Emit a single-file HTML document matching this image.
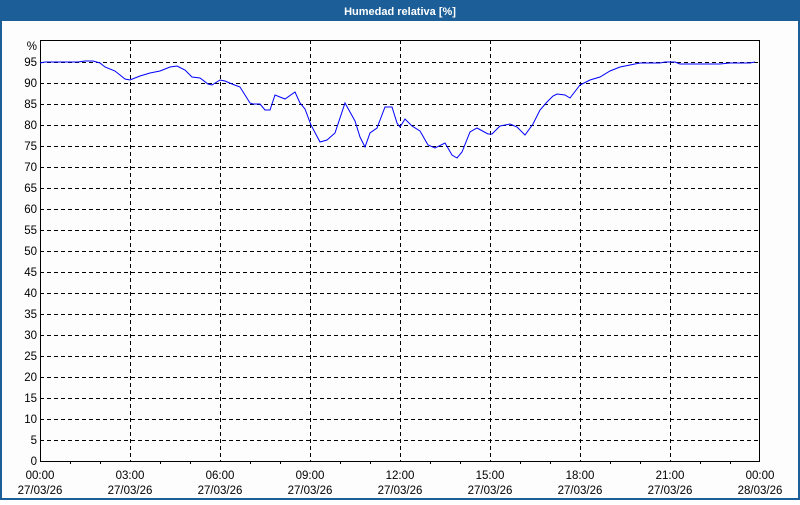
<!DOCTYPE html>
<html><head><style>
body{margin:0;width:800px;height:500px;overflow:hidden;background:#fff;font-family:"Liberation Sans",sans-serif}
</style></head><body>
<svg width="800" height="500" xmlns="http://www.w3.org/2000/svg" font-family="Liberation Sans, sans-serif" font-size="11.5">
<rect x="0" y="0" width="800" height="500" fill="#1c5f98"/>
<rect x="2" y="21" width="796" height="477" fill="#fcfdfc"/>
<text x="400" y="15" fill="#fff" font-weight="bold" font-size="11" text-anchor="middle">Humedad relativa [%]</text>
<g stroke="#000" stroke-dasharray="4,3" stroke-width="1">
<line x1="40" x2="760" y1="440.5" y2="440.5"/><line x1="40" x2="760" y1="419.5" y2="419.5"/><line x1="40" x2="760" y1="398.5" y2="398.5"/><line x1="40" x2="760" y1="377.5" y2="377.5"/><line x1="40" x2="760" y1="356.5" y2="356.5"/><line x1="40" x2="760" y1="335.5" y2="335.5"/><line x1="40" x2="760" y1="314.5" y2="314.5"/><line x1="40" x2="760" y1="293.5" y2="293.5"/><line x1="40" x2="760" y1="272.5" y2="272.5"/><line x1="40" x2="760" y1="251.5" y2="251.5"/><line x1="40" x2="760" y1="230.5" y2="230.5"/><line x1="40" x2="760" y1="209.5" y2="209.5"/><line x1="40" x2="760" y1="188.5" y2="188.5"/><line x1="40" x2="760" y1="167.5" y2="167.5"/><line x1="40" x2="760" y1="146.5" y2="146.5"/><line x1="40" x2="760" y1="125.5" y2="125.5"/><line x1="40" x2="760" y1="104.5" y2="104.5"/><line x1="40" x2="760" y1="83.5" y2="83.5"/><line x1="40" x2="760" y1="62.5" y2="62.5"/>
<line y1="40" y2="461" x1="130.5" x2="130.5"/><line y1="40" y2="461" x1="220.5" x2="220.5"/><line y1="40" y2="461" x1="310.5" x2="310.5"/><line y1="40" y2="461" x1="400.5" x2="400.5"/><line y1="40" y2="461" x1="490.5" x2="490.5"/><line y1="40" y2="461" x1="580.5" x2="580.5"/><line y1="40" y2="461" x1="670.5" x2="670.5"/>
</g>
<rect x="40.5" y="40.5" width="719" height="421" fill="none" stroke="#000"/>
<g stroke="#000">
<line x1="70.5" x2="70.5" y1="461" y2="464"/><line x1="100.5" x2="100.5" y1="461" y2="464"/><line x1="160.5" x2="160.5" y1="461" y2="464"/><line x1="190.5" x2="190.5" y1="461" y2="464"/><line x1="250.5" x2="250.5" y1="461" y2="464"/><line x1="280.5" x2="280.5" y1="461" y2="464"/><line x1="340.5" x2="340.5" y1="461" y2="464"/><line x1="370.5" x2="370.5" y1="461" y2="464"/><line x1="430.5" x2="430.5" y1="461" y2="464"/><line x1="460.5" x2="460.5" y1="461" y2="464"/><line x1="520.5" x2="520.5" y1="461" y2="464"/><line x1="550.5" x2="550.5" y1="461" y2="464"/><line x1="610.5" x2="610.5" y1="461" y2="464"/><line x1="640.5" x2="640.5" y1="461" y2="464"/><line x1="700.5" x2="700.5" y1="461" y2="464"/><line x1="730.5" x2="730.5" y1="461" y2="464"/>
</g>
<polyline fill="none" stroke="#0000ff" stroke-width="1" points="40,63 45,62 78,62 85,61 93,61 100,63 105,67 115,71 125,79 130,80 140,76 150,73 160,71 170,67 177,66 185,70 192,77 200,78 208,84 212,85 220,80 225,81 232,84 240,87 250,103 253,104 260,104 265,110 270,110 275,95 285,99 295,92 300,103 305,109 311,125 320,142 327,140 335,133 345,103 355,121 360,137 365,147 370,133 377,128 385,107 392,107 397,123 400,127 405,119 412,126 420,131 428,145 435,148 445,143 452,155 457,158 462,152 470,132 477,128 488,134 492,134 500,126 510,124 517,127 525,135 533,124 540,110 547,102 553,96 557,94 565,95 570,98 580,85 590,80 600,77 610,71 620,67 630,65 640,63 660,63 665,62 675,62 680,64 690,64 720,64 730,63 750,63 755,62"/>
<g text-anchor="end" fill="#000">
<text x="37" y="465">0</text><text x="37" y="444">5</text><text x="37" y="423">10</text><text x="37" y="402">15</text><text x="37" y="381">20</text><text x="37" y="360">25</text><text x="37" y="339">30</text><text x="37" y="318">35</text><text x="37" y="297">40</text><text x="37" y="276">45</text><text x="37" y="255">50</text><text x="37" y="234">55</text><text x="37" y="213">60</text><text x="37" y="192">65</text><text x="37" y="171">70</text><text x="37" y="150">75</text><text x="37" y="129">80</text><text x="37" y="108">85</text><text x="37" y="87">90</text><text x="37" y="66">95</text><text x="37" y="50">%</text>
</g>
<g text-anchor="middle" fill="#000">
<text x="40" y="479">00:00</text><text x="40" y="494">27/03/26</text>
<text x="130" y="479">03:00</text><text x="130" y="494">27/03/26</text>
<text x="220" y="479">06:00</text><text x="220" y="494">27/03/26</text>
<text x="310" y="479">09:00</text><text x="310" y="494">27/03/26</text>
<text x="400" y="479">12:00</text><text x="400" y="494">27/03/26</text>
<text x="490" y="479">15:00</text><text x="490" y="494">27/03/26</text>
<text x="580" y="479">18:00</text><text x="580" y="494">27/03/26</text>
<text x="670" y="479">21:00</text><text x="670" y="494">27/03/26</text>
<text x="760" y="479">00:00</text><text x="760" y="494">28/03/26</text>
</g>
</svg>
</body></html>
